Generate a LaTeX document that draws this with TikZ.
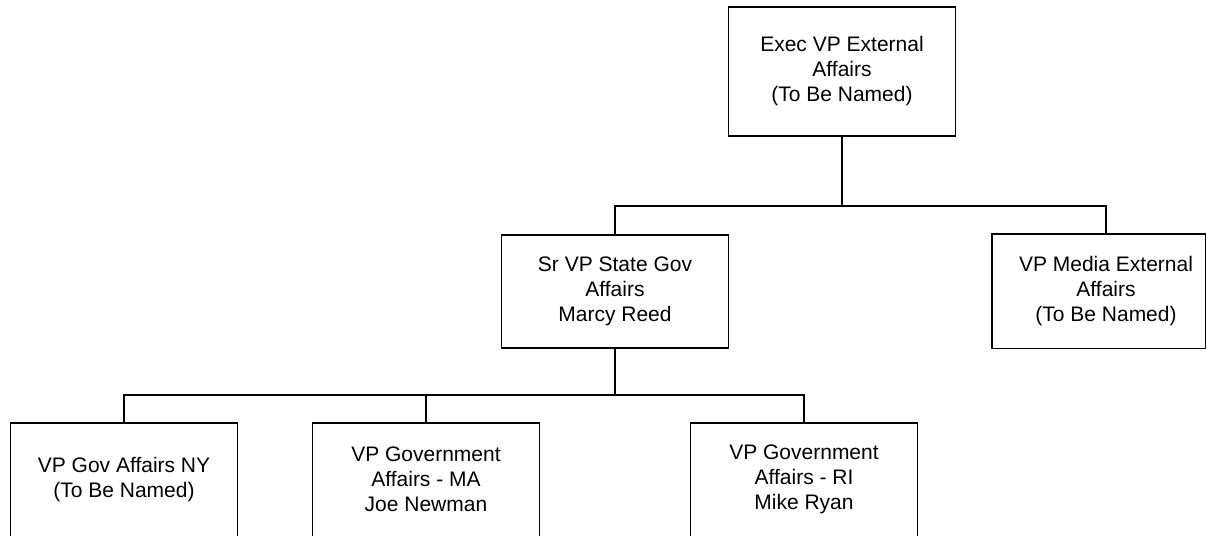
\documentclass[tikz,border=0pt]{standalone}
\usepackage{fontspec}
\setmainfont{Liberation Sans}
\begin{document}
\begin{tikzpicture}[x=1pt,y=-1pt,
  orgbox/.style={draw=black, line width=1.8pt, rectangle, minimum width=227pt, minimum height=113pt,
    inner sep=0pt, align=center, font=\fontsize{21}{25}\selectfont},
  orgtext/.style={align=center, font=\fontsize{21}{25}\selectfont, inner sep=0pt},
  conn/.style={draw=black, line width=1.8pt}]
\useasboundingbox (0,0) rectangle (1206,535);
\fill[white] (0,0) rectangle (1206,535);
\begin{scope}
\clip (-5,-5) rectangle (1206,535);
\node[orgbox, minimum height=129pt] (top) at (842,71.5) {Exec VP External\\Affairs\\(To Be Named)};
\node[orgbox] (mid) at (615,291.5) {Sr VP State Gov\\Affairs\\Marcy Reed};
\node[orgbox, draw=none] (media) at (1106,291) {VP Media External\\Affairs\\(To Be Named)};
\draw[conn] (media.north west) rectangle ([xshift=-15pt]media.south east);
\node[orgbox, minimum height=160pt, yshift=-23.5pt] (ny) at (124,479.5) {};
\node[orgtext] (nyt) at (124,479.5) {VP Gov Affairs NY\\(To Be Named)};
\node[orgbox, minimum height=160pt, yshift=-23.5pt] (ma) at (426,479.5) {};
\node[orgtext] (mat) at (426,479.5) {VP Government\\Affairs - MA\\Joe Newman};
\node[orgbox, minimum height=160pt, yshift=-23.5pt] (ri) at (804,479.5) {};
\node[orgtext] (rit) at (804,479.5) {VP Government\\Affairs - RI\\Mike Ryan};
\coordinate (j1) at (842,206);
\coordinate (j2) at (615,395);
\draw[conn] (top.south) -- (j1);
\draw[conn] (mid.north) |- (j1) -| (media.north);
\draw[conn] (mid.south) -- (j2);
\draw[conn] (ny.north) |- (j2) -| (ri.north);
\draw[conn] (ma.north) -- (ma.north |- j2);
\end{scope}
\end{tikzpicture}
\end{document}
